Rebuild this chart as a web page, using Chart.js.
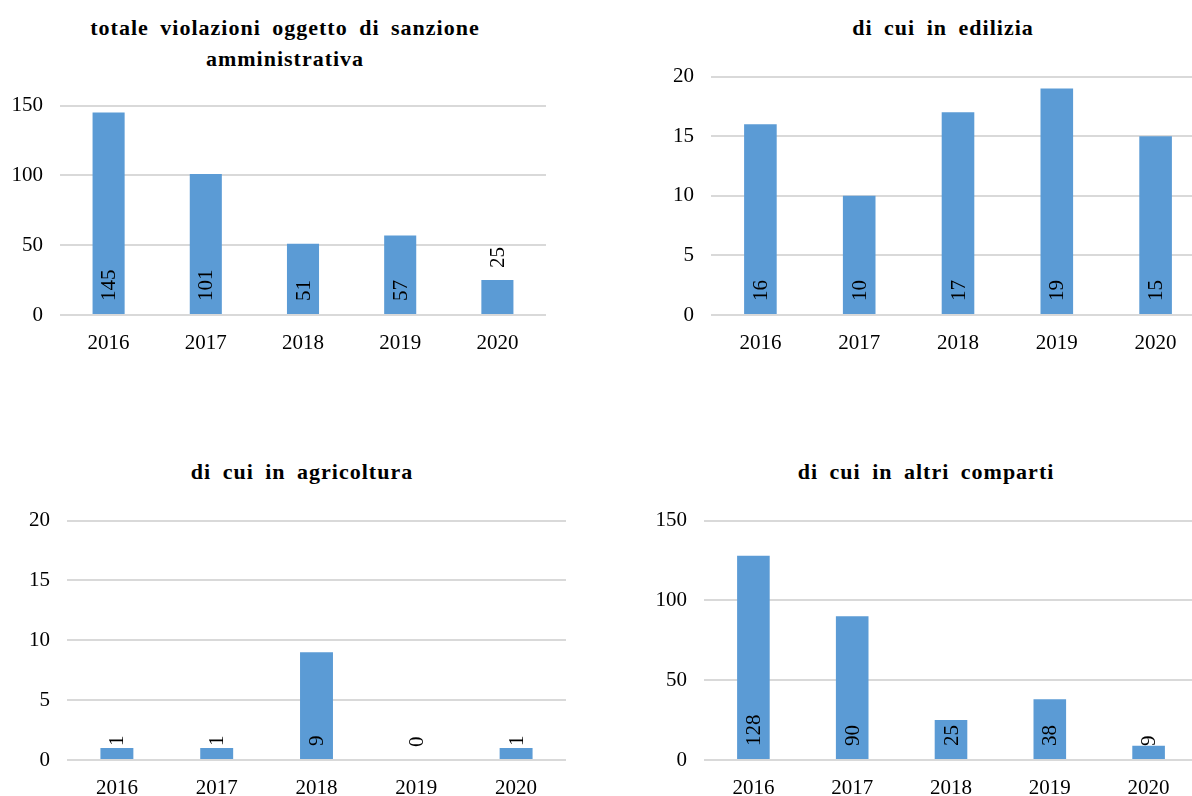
<!DOCTYPE html>
<html>
<head>
<meta charset="utf-8">
<script src="https://cdn.jsdelivr.net/npm/chart.js@4/dist/chart.umd.min.js"></script>
<style>
  html, body { margin: 0; padding: 0; background: #fff; }
  body { width: 1192px; height: 796px; position: relative; overflow: hidden; }
  canvas { position: absolute; }
  .title {
    position: absolute; width: 600px; text-align: center; white-space: nowrap;
    font: bold 22px "Liberation Serif", "Times New Roman", serif;
    letter-spacing: 1px; word-spacing: 5px; line-height: 31px; color: #000;
  }
</style>
</head>
<body>
<div class="title" style="left:-15px; top:12px;">totale violazioni oggetto di sanzione<br>amministrativa</div>
<div class="title" style="left:643px; top:12px;">di cui in edilizia</div>
<div class="title" style="left:2px; top:456px;">di cui in agricoltura</div>
<div class="title" style="left:626px; top:456px;">di cui in altri comparti</div>

<canvas id="c1" width="546" height="284" style="left:0px; top:76px;"></canvas>
<canvas id="c2" width="554" height="313" style="left:651px; top:47px;"></canvas>
<canvas id="c3" width="559" height="314" style="left:7px; top:491px;"></canvas>
<canvas id="c4" width="554" height="314" style="left:644px; top:491px;"></canvas>

<script>
// anni
const years = ['2016', '2017', '2018', '2019', '2020'];

// valori
const totale = [145, 101, 51, 57, 25];
const edilizia = [16, 10, 17, 19, 15];
const agricoltura = [1, 1, 9, 0, 1];
const altri = [128, 90, 25, 38, 9];

const barColor = '#5b9bd5';
const serif = '"Liberation Serif", "Times New Roman", serif';

// etichette ruotate alla base della barra (come in Excel)
const rotatedLabels = {
  id: 'rotatedLabels',
  afterDatasetsDraw(chart, args, opts) {
    const ctx = chart.ctx;
    const raised = opts.raised || [];
    const meta = chart.getDatasetMeta(0);
    const values = chart.data.datasets[0].data;
    meta.data.forEach((bar, i) => {
      ctx.save();
      if (raised.includes(i)) {
        ctx.translate(bar.x, bar.y - 12);
      } else {
        ctx.translate(bar.x, bar.base - 13);
      }
      ctx.rotate(-Math.PI / 2);
      ctx.font = '21px ' + serif;
      ctx.fillStyle = '#000';
      ctx.textAlign = 'left';
      ctx.textBaseline = 'middle';
      ctx.fillText(String(values[i]), 0, 1);
      ctx.restore();
    });
  }
};

function makeChart(id, values, maxY, step, raised) {
  const ctx = document.getElementById(id).getContext('2d');
  return new Chart(ctx, {
    type: 'bar',
    data: {
      labels: years,
      datasets: [{
        data: values,
        backgroundColor: barColor,
        borderWidth: 0,
        categoryPercentage: 1,
        barPercentage: 0.33
      }]
    },
    options: {
      responsive: false,
      animation: false,
      devicePixelRatio: 1,
      layout: { padding: { top: 16, right: 0, left: 0, bottom: 0 } },
      plugins: {
        legend: { display: false },
        tooltip: { enabled: false },
        rotatedLabels: { raised: raised }
      },
      scales: {
        x: {
          grid: { display: false },
          border: { display: false },
          ticks: { color: '#000', font: { family: serif, size: 21 }, padding: 8, maxRotation: 0 },
          afterFit(scale) { scale.height = 45; }
        },
        y: {
          min: 0,
          max: maxY,
          ticks: { stepSize: step, color: '#000', font: { family: serif, size: 21 }, padding: 17 },
          grid: { color: '#d9d9d9', lineWidth: 2, drawTicks: false },
          border: { display: false },
          afterFit(scale) { scale.width = 60; }
        }
      }
    },
    plugins: [rotatedLabels]
  });
}

makeChart('c1', totale, 150, 50, [4]);
makeChart('c2', edilizia, 20, 5, []);
makeChart('c3', agricoltura, 20, 5, []);
makeChart('c4', altri, 150, 50, []);
</script>
</body>
</html>
